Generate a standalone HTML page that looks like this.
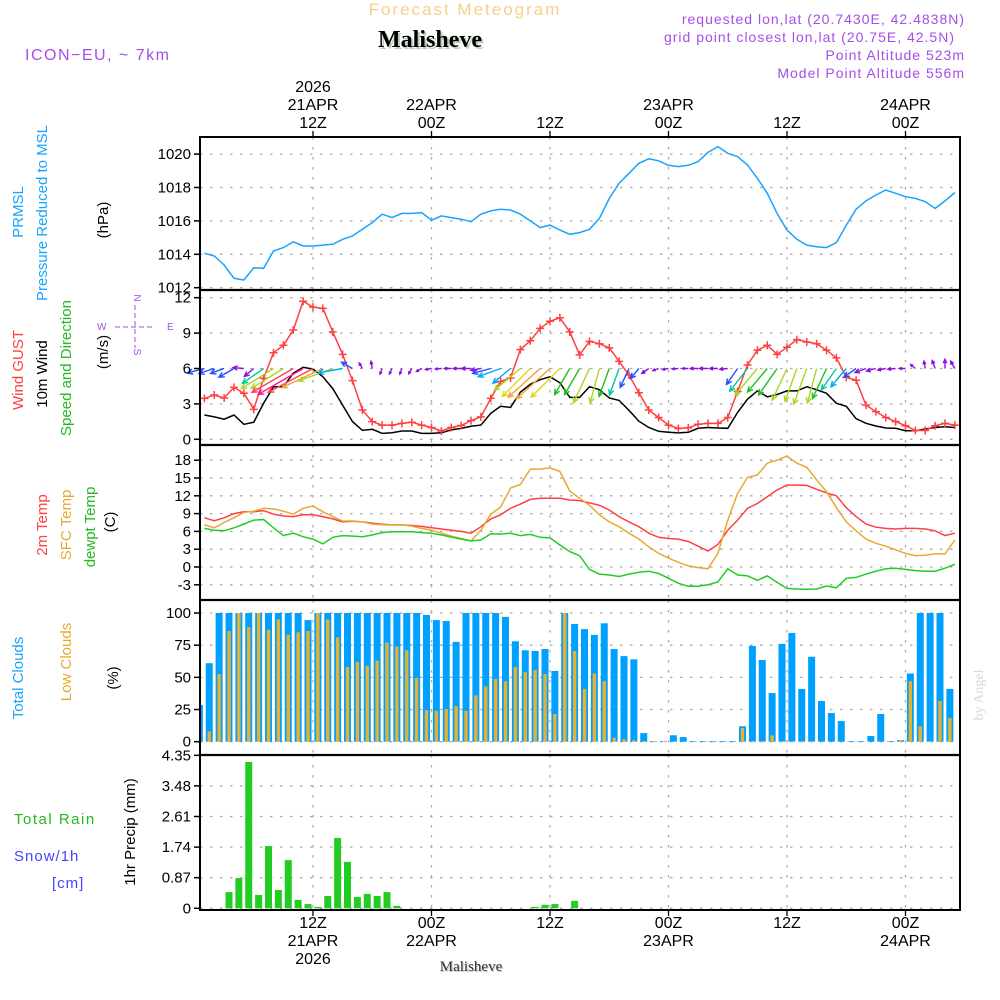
<!DOCTYPE html>
<html><head><meta charset="utf-8"><title>Meteogram Malisheve</title>
<style>
html,body{margin:0;padding:0;background:#fff;}
svg{display:block;font-family:"Liberation Sans",sans-serif;}
</style></head>
<body>
<svg id="chart" width="1000" height="1000" viewBox="0 0 1000 1000" xmlns="http://www.w3.org/2000/svg">
  <g>
    <text x="465" y="15" text-anchor="middle" font-size="17" fill="#f5d08a" letter-spacing="2">Forecast Meteogram</text>
    <text x="432" y="49" text-anchor="middle" font-size="24" font-weight="bold" font-family="Liberation Serif, serif" fill="#b9cfb9">Malisheve</text>
    <text x="430" y="47" text-anchor="middle" font-size="24" font-weight="bold" font-family="Liberation Serif, serif" fill="#000">Malisheve</text>
    <text x="25" y="60" font-size="16" fill="#a54ee8" letter-spacing="1.5">ICON−EU, ~ 7km</text>
    <text x="965" y="24" text-anchor="end" font-size="14" fill="#a54ee8" letter-spacing="1">requested lon,lat (20.7430E, 42.4838N)</text>
    <text x="955" y="42" text-anchor="end" font-size="14" fill="#a54ee8" letter-spacing="1">grid point closest lon,lat (20.75E, 42.5N)</text>
    <text x="965" y="60" text-anchor="end" font-size="14" fill="#a54ee8" letter-spacing="1">Point Altitude 523m</text>
    <text x="965" y="78" text-anchor="end" font-size="14" fill="#a54ee8" letter-spacing="1">Model Point Altitude 556m</text>
  </g>
  <g font-size="15">
    <text transform="translate(23,212) rotate(-90)" text-anchor="middle" fill="#1aa3ff">PRMSL</text>
    <text transform="translate(47,213) rotate(-90)" text-anchor="middle" fill="#1aa3ff">Pressure Reduced to MSL</text>
    <text transform="translate(108,220) rotate(-90)" text-anchor="middle" fill="#000">(hPa)</text>
    <text transform="translate(23,370) rotate(-90)" text-anchor="middle" fill="#ff4040">Wind GUST</text>
    <text transform="translate(47,374) rotate(-90)" text-anchor="middle" fill="#000">10m Wind</text>
    <text transform="translate(71,368) rotate(-90)" text-anchor="middle" fill="#22bb22">Speed and Direction</text>
    <text transform="translate(108,352) rotate(-90)" text-anchor="middle" fill="#000">(m/s)</text>
    <g fill="#a54ee8" stroke="#a54ee8" font-size="10">
      <text x="134" y="298" stroke="none" text-anchor="middle" transform="rotate(90 134 298)">N</text>
      <text x="97" y="330" stroke="none">W</text>
      <text x="167" y="330" stroke="none">E</text>
      <text x="134" y="352" stroke="none" text-anchor="middle" transform="rotate(90 134 352)">S</text>
      <line x1="115" y1="327" x2="155" y2="327" stroke-dasharray="5,3"/>
      <line x1="135" y1="305" x2="135" y2="348" stroke-dasharray="5,3"/>
    </g>
    <text transform="translate(47,525) rotate(-90)" text-anchor="middle" fill="#ff4040">2m Temp</text>
    <text transform="translate(71,525) rotate(-90)" text-anchor="middle" fill="#e8a830">SFC Temp</text>
    <text transform="translate(95,527) rotate(-90)" text-anchor="middle" fill="#22bb22">dewpt Temp</text>
    <text transform="translate(115,522) rotate(-90)" text-anchor="middle" fill="#000">(C)</text>
    <text transform="translate(23,678) rotate(-90)" text-anchor="middle" fill="#1aa3ff">Total Clouds</text>
    <text transform="translate(71,662) rotate(-90)" text-anchor="middle" fill="#e8a830">Low Clouds</text>
    <text transform="translate(118,678) rotate(-90)" text-anchor="middle" fill="#000">(%)</text>
    <text x="14" y="824" fill="#22bb22" letter-spacing="1.5">Total  Rain</text>
    <text x="14" y="861" fill="#4444ff" letter-spacing="1">Snow/1h</text>
    <text x="52" y="888" fill="#4444ff" letter-spacing="1">[cm]</text>
    <text transform="translate(135,832) rotate(-90)" text-anchor="middle" fill="#000">1hr Precip (mm)</text>
    <text transform="translate(983,695) rotate(-90)" text-anchor="middle" fill="#d8d8d8" font-family="Liberation Serif, serif" font-size="14">by Angel</text>
    <text x="472" y="972" text-anchor="middle" font-family="Liberation Serif, serif" font-size="15" fill="#bbb">Malisheve</text>
    <text x="471" y="971" text-anchor="middle" font-family="Liberation Serif, serif" font-size="15" fill="#333">Malisheve</text>
  </g>
  <g id="grid"></g>
  <g id="marks"></g>
  <g id="frame"></g>
</svg>
<script>
// ---- data (hourly, h = 1..77 from 00Z 21APR) ----
const hours = Array.from({length:77},(_,i)=>i+1);
const pressure = [1014.06,1013.9,1013.36,1012.56,1012.46,1013.2,1013.16,1014.2,1014.4,1014.75,1014.5,1014.5,1014.55,1014.6,1014.9,1015.1,1015.5,1015.9,1016.4,1016.2,1016.45,1016.45,1016.5,1016.05,1016.3,1016.2,1016.1,1015.95,1016.4,1016.6,1016.7,1016.65,1016.4,1016.0,1015.6,1015.75,1015.45,1015.2,1015.3,1015.5,1016.15,1017.35,1018.25,1018.85,1019.45,1019.72,1019.6,1019.33,1019.25,1019.33,1019.55,1020.1,1020.45,1020.05,1019.85,1019.35,1018.55,1017.65,1016.45,1015.45,1014.9,1014.55,1014.45,1014.4,1014.7,1015.75,1016.7,1017.2,1017.55,1017.85,1017.65,1017.45,1017.35,1017.15,1016.75,1017.2,1017.7];
const gust = [3.47,3.75,3.5,4.4,3.9,2.54,5.17,7.34,7.97,9.26,11.7,11.2,11.1,9.1,7.2,4.97,2.48,1.5,1.2,1.2,1.35,1.45,1.2,1.0,0.7,1.0,1.17,1.58,1.9,3.47,4.9,5.2,7.6,8.35,9.4,10.0,10.3,9.1,7.15,8.3,8.1,7.75,6.6,5.45,3.95,2.48,1.85,1.2,0.92,0.97,1.28,1.35,1.35,1.85,4.05,6.3,7.55,7.97,7.2,7.8,8.45,8.25,8.1,7.55,6.9,5.25,5.0,2.9,2.35,1.85,1.5,1.15,0.75,0.75,1.15,1.35,1.2];
const wind = [2.06,1.9,1.7,2.06,1.27,1.45,3.05,4.46,4.46,5.6,6.1,5.95,5.3,4.3,2.9,1.5,0.75,0.85,0.5,0.55,0.7,0.7,0.5,0.5,0.55,0.8,0.92,1.1,1.2,2.2,2.8,2.7,4.0,4.66,5.05,5.3,4.8,3.55,3.55,4.46,4.2,3.5,3.3,2.45,1.53,1.0,0.68,0.6,0.54,0.6,0.93,1.0,0.96,0.93,2.28,3.4,4.1,3.6,3.8,4.1,4.1,4.45,4.2,3.9,3.05,2.8,1.75,1.36,1.13,0.96,0.93,0.73,0.73,0.87,1.0,1.07,1.0];
const windDir = [75,72,70,60,95,50,55,58,58,60,60,62,65,70,80,120,150,170,20,25,20,30,60,80,85,90,90,90,80,75,70,50,50,45,48,48,45,30,30,25,15,20,20,25,40,55,70,80,85,90,90,90,90,85,35,38,40,40,35,25,20,20,15,25,35,40,55,70,75,80,85,90,130,170,160,180,150];
const temp2m = [8.3,7.8,8.3,9.0,9.3,9.3,9.5,8.9,8.6,8.5,8.8,8.8,8.5,8.1,7.6,7.7,7.6,7.4,7.2,7.1,7.1,7.0,6.85,6.6,6.4,6.2,6.0,5.7,6.8,8.1,8.8,9.9,10.6,11.4,11.6,11.6,11.6,11.3,11.2,10.8,10.4,9.6,8.5,7.6,6.8,5.7,5.0,4.8,4.7,4.3,3.5,2.7,3.8,6.2,7.9,9.9,10.7,11.85,13.0,13.8,13.8,13.75,13.1,12.5,12.0,10.0,8.5,7.25,6.7,6.5,6.4,6.5,6.5,6.4,6.1,5.3,5.7];
const sfcTemp = [7.1,6.6,7.5,8.3,9.2,9.4,9.9,9.8,9.4,8.9,9.9,10.3,9.3,8.5,7.75,7.75,7.6,7.25,7.1,7.1,7.1,6.9,6.5,6.2,5.7,5.2,4.8,4.4,6.2,8.9,10.1,13.3,13.9,16.5,16.5,16.7,16.1,12.8,11.6,10.4,8.8,7.6,6.8,5.7,4.7,3.4,2.3,1.5,0.8,0.2,-0.1,-0.3,2.3,7.9,12.4,15.1,15.5,17.5,18.0,18.7,17.5,16.8,14.7,12.7,10.0,7.6,6.1,4.7,4.0,3.5,2.9,2.3,1.9,2.0,2.2,2.2,4.55];
const dewpt = [6.5,6.2,6.1,6.6,7.25,7.9,8.0,6.6,5.3,5.7,5.1,4.7,3.9,5.0,5.3,5.2,5.1,5.4,5.8,5.95,5.95,5.95,5.8,5.7,5.4,5.05,4.7,4.4,4.55,5.6,5.55,5.7,5.3,5.5,5.0,4.9,3.7,2.6,1.9,-0.4,-1.2,-1.35,-1.6,-1.2,-0.9,-0.7,-1.1,-1.9,-2.75,-3.25,-3.25,-3.0,-2.5,-0.3,-1.35,-1.5,-2.25,-1.5,-2.6,-3.6,-3.7,-3.75,-3.7,-3.2,-3.5,-1.9,-1.75,-1.2,-0.7,-0.3,-0.2,-0.4,-0.6,-0.7,-0.7,-0.2,0.45];
const totalClouds = [28.5,61,100,100,100,100,100,100,100,100,100,94.5,100,100,100,100,100,100,100,100,100,100,100,98.5,94.5,93.8,77.5,100,100,100,100,97,78,71,70.5,72,55,100,91.5,87.5,83,92,72,66.5,64,6.7,0.5,0.5,5,3.6,0.5,0.5,0.5,0.5,0.5,12,74.4,63.5,37.8,76,84.5,41,66,31.6,22.3,16,0.5,0.5,4.4,21.5,0.5,1.3,53,100,100,100,41];
const lowClouds = [5,8,52.6,86,100,89,100,87,95,83,85,86,100,95,81,58,62,59,63,77,74,71,49.5,24.6,24,25.4,27.7,24,36,43,48.7,47,58,54,55.7,52.6,21.5,100,70.5,41,53,47,3,2,1.3,0.5,0.5,0.5,0,0,0,0,0,0,0,10.6,0.5,0.5,5,0.5,0.5,0.5,0.5,0,0,0,0,0,0,0,0,1.3,47,12,0.5,31.6,18.4];
const precip = [0,0,0,0.46,0.86,4.16,0.38,1.77,0.52,1.37,0.24,0.12,0.04,0.35,2.0,1.32,0.32,0.41,0.35,0.46,0.07,0,0,0,0,0,0,0,0,0,0,0,0,0,0.04,0.1,0.12,0,0.21,0,0,0,0,0,0,0,0,0,0,0,0,0,0,0,0,0,0,0,0,0,0,0,0,0,0,0,0,0,0,0,0,0,0,0,0,0,0];
const pressTicks = [1012,1014,1016,1018,1020];
const windTicks = [0,3,6,9,12];
const tempTicks = [-3,0,3,6,9,12,15,18];
const cloudTicks = [0,25,50,75,100];
const precipTicks = [0,0.87,1.74,2.61,3.48,4.35];
const timeTicks = [12,24,36,48,60,72];
const timeTop = [["2026","21APR","12Z"],["","22APR","00Z"],["","","12Z"],["","23APR","00Z"],["","","12Z"],["","24APR","00Z"]];
const timeBottom = [["12Z","21APR","2026"],["00Z","22APR",""],["12Z","",""],["00Z","23APR",""],["12Z","",""],["00Z","24APR",""]];

// ---- axis functions ----
const X0=200, X1=960;
const xh = h => 313 + (h-12)*9.875;
const yP = p => 254.3 - (p-1014)*16.7;
const yW = v => 439.3 - v*11.8;
const yT = t => 567 - t*5.933;
const yC = c => 741.7 - c*1.287;
const yR = r => 908.3 - r*35.17;
const panels = [[137,290],[290,445],[445,600],[600,755],[755,910]];

const NS="http://www.w3.org/2000/svg";
function mk(tag, attrs, parent){const e=document.createElementNS(NS,tag);for(const k in attrs)e.setAttribute(k,attrs[k]);parent.appendChild(e);return e;}
const grid=document.getElementById('grid'), marks=document.getElementById('marks'), frame=document.getElementById('frame');

function hgrid(ticks, yf, fmt, name){
  ticks.forEach(t=>{
    const y=yf(t);
    const l=mk('line',{x1:X0,x2:X1,y1:y,y2:y,stroke:'#aaa','stroke-width':1.3,'stroke-dasharray':'2.5,7.5'},grid);
    
    
    const tk=mk('line',{x1:X0-6,x2:X0,y1:y,y2:y,stroke:'#000','stroke-width':1.5},frame);
    
    
    const tx=mk('text',{x:X0-9,y:y+5,'text-anchor':'end','font-size':15,fill:'#000'},frame);
    tx.textContent=fmt(t);
    
    
  });
}
hgrid(pressTicks,yP,t=>String(t),'pressure');
hgrid(windTicks,yW,t=>String(t),'wind');
hgrid(tempTicks,yT,t=>String(t),'temp');
hgrid(cloudTicks,yC,t=>String(t),'cloud');
hgrid(precipTicks,yR,t=>t===0?'0':t.toFixed(2),'precip');

timeTicks.forEach((h,i)=>{
  const x=xh(h);
  panels.forEach(p=>{
    const l=mk('line',{x1:x,x2:x,y1:p[0],y2:p[1],stroke:'#aaa','stroke-width':1.3,'stroke-dasharray':'2.5,7.5'},grid);
    
    
  });
  mk('line',{x1:x,x2:x,y1:131,y2:137,stroke:'#000','stroke-width':1.3},frame);
  mk('line',{x1:x,x2:x,y1:910,y2:916,stroke:'#000','stroke-width':1.3},frame);
  timeTop[i].forEach((s,j)=>{ if(!s)return;
    const t=mk('text',{x:x,y:92+j*18,'text-anchor':'middle','font-size':16,fill:'#000'},frame);
    t.textContent=s;
    
    
  });
  timeBottom[i].forEach((s,j)=>{ if(!s)return;
    const t=mk('text',{x:x,y:928+j*18,'text-anchor':'middle','font-size':16,fill:'#000'},frame);
    t.textContent=s;
    
    
  });
});

function line(vals, yf, color, name){
  const d=vals.map((v,i)=>(i?'L':'M')+xh(hours[i]).toFixed(1)+','+yf(v).toFixed(1)).join('');
  const p=mk('path',{d:d,fill:'none',stroke:color,'stroke-width':1.5},marks);
  
  
}
line(pressure,yP,'#1aa3ff','pressure-line');
line(wind,yW,'#000','wind-speed-line');
line(gust,yW,'#ff4040','gust-line');
gust.forEach((v,i)=>{
  const x=xh(hours[i]), y=yW(v);
  const c=mk('path',{d:`M${x-4},${y}H${x+4}M${x},${y-4}V${y+4}`,stroke:'#ff4040','stroke-width':1.5},marks);
  
  
});

function arrowColor(s){
  if(s<1.5) return '#8a10e0';
  if(s<2.5) return '#2050ff';
  if(s<3) return '#00a8f0';
  if(s<3.5) return '#00c8a0';
  if(s<4) return '#20c020';
  if(s<4.5) return '#a8d820';
  if(s<5) return '#e8d020';
  if(s<5.5) return '#f0a030';
  if(s<6) return '#ff4050';
  return '#ff1090';
}
wind.forEach((s,i)=>{
  const x0=xh(hours[i]), y0=yW(6);
  const L=Math.max(6, s*8.5);
  const a=(windDir[i]+180)*Math.PI/180;
  const dx=Math.sin(a)*L, dy=-Math.cos(a)*L;
  const x1=x0+dx, y1=y0+dy;
  const ang=Math.atan2(dy,dx), hl=Math.min(6,L*0.45);
  const hx1=x1-hl*Math.cos(ang-0.45), hy1=y1-hl*Math.sin(ang-0.45);
  const hx2=x1-hl*Math.cos(ang+0.45), hy2=y1-hl*Math.sin(ang+0.45);
  const ar=mk('path',{d:`M${x0},${y0}L${x1},${y1}M${hx1},${hy1}L${x1},${y1}L${hx2},${hy2}`,stroke:arrowColor(s),'stroke-width':1.4,fill:'none'},marks);
  
  
});

line(temp2m,yT,'#ff4040','temp-2m-line');
line(sfcTemp,yT,'#e8a830','sfc-temp-line');
line(dewpt,yT,'#22cc22','dewpt-line');

// clip for bars
const defs=mk('defs',{},marks);
const cp=mk('clipPath',{id:'plotclip'},defs);
mk('rect',{x:X0,y:600,width:X1-X0,height:310},cp);
const barG=mk('g',{'clip-path':'url(#plotclip)'},marks);


totalClouds.forEach((c,i)=>{
  const xc=xh(hours[i])-5;
  const b=mk('rect',{x:xc-3.5,y:yC(c),width:7,height:yC(0)-yC(c),fill:'#00a0ff'},barG);
  
  
  const lc=lowClouds[i];
  const b2=mk('rect',{x:xc-1.7,y:yC(lc),width:3.4,height:yC(0)-yC(lc),fill:'#e8b030'},barG);
  
  
});
precip.forEach((r,i)=>{
  if(r<=0) return;
  const xc=xh(hours[i])-5;
  const b=mk('rect',{x:xc-3.5,y:yR(r),width:7,height:yR(0)-yR(r),fill:'#22cc22'},barG);
  
  
});

// frame
const fr=mk('rect',{x:X0,y:137,width:X1-X0,height:773,fill:'none',stroke:'#000','stroke-width':2},frame);


[290,445,600,755].forEach(y=>{
  const s=mk('line',{x1:X0,x2:X1,y1:y,y2:y,stroke:'#000','stroke-width':2.2},frame);
  
  
});
</script>
</body></html>
